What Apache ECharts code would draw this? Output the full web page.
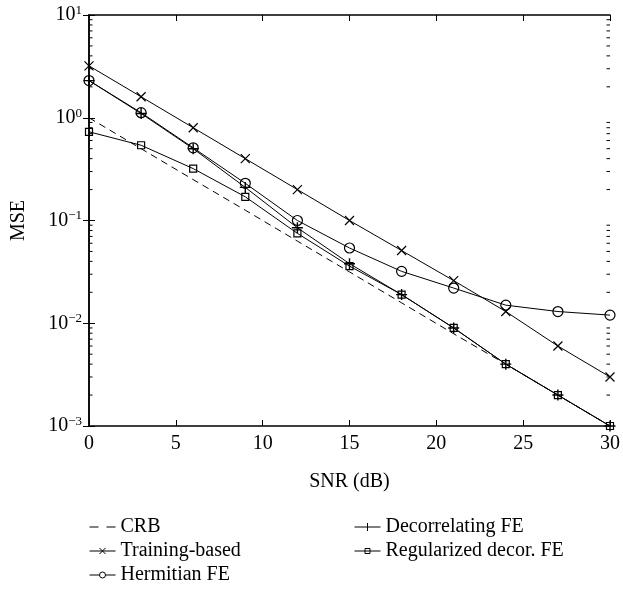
<!DOCTYPE html>
<html>
<head>
<meta charset="utf-8">
<script src="https://cdn.jsdelivr.net/npm/echarts@6/dist/echarts.min.js"></script>
<style>
html,body{margin:0;padding:0;background:#fff;}
#chart{width:623px;height:590px;}
</style>
</head>
<body>
<div id="chart"></div>
<script>
const snr = [0, 3, 6, 9, 12, 15, 18, 21, 24, 27, 30];
const crb = [1.0, 0.5, 0.25, 0.126, 0.063, 0.0316, 0.0158, 0.0079, 0.004, 0.002, 0.001];
const trainingBased = [3.2, 1.6, 0.8, 0.4, 0.2, 0.1, 0.051, 0.026, 0.013, 0.006, 0.003];
const hermitianFE = [2.3, 1.12, 0.51, 0.23, 0.1, 0.054, 0.032, 0.022, 0.015, 0.013, 0.012];
const decorrelatingFE = [2.3, 1.1, 0.5, 0.21, 0.085, 0.038, 0.019, 0.009, 0.004, 0.002, 0.001];
const regularizedFE = [0.73, 0.54, 0.32, 0.17, 0.075, 0.036, 0.019, 0.009, 0.004, 0.002, 0.001];
const yDecades = [0.001, 0.01, 0.1, 1, 10];
const seriesNames = ['CRB', 'Training-based', 'Hermitian FE', 'Decorrelating FE', 'Regularized decor. FE'];

const FONT = 'Liberation Serif';
const FS = 20;
const minorVals = [];
for (let d = 0; d < yDecades.length - 1; d++) {
  for (let m = 2; m <= 9; m++) minorVals.push([yDecades[d] * m]);
}
const pair = (ys) => snr.map((x, i) => [x, ys[i]]);
const CROSS = 'path://M0,0L10,10M10,0L0,10';
const PLUS = 'path://M5,0L5,10M0,5L10,5';

const legendIcons = {
  'CRB': 'path://M0,5.5L9,5.5L9,6.5L0,6.5ZM17,5.5L26,5.5L26,6.5L17,6.5Z',
  'Training-based': 'path://M0,6L26,6M10,3L16,9M16,3L10,9',
  'Hermitian FE': 'path://M0,6L10,6M16,6L26,6M16,6A3,3 0 1 1 10,6A3,3 0 1 1 16,6',
  'Decorrelating FE': 'path://M0,6L26,6M13,2L13,10',
  'Regularized decor. FE': 'path://M0,6L26,6M10.5,3.5L15.5,3.5L15.5,8.5L10.5,8.5Z'
};
const legendItem = (name) => ({
  name: name,
  icon: legendIcons[name],
  itemStyle: name === 'CRB'
    ? {color: '#000', borderWidth: 0}
    : {color: 'none', borderColor: '#000', borderWidth: 1}
});

const chart = echarts.init(document.getElementById('chart'));
const baseLine = {type: 'line', color: '#000', lineStyle: {color: '#000', width: 1}, animation: false,
  itemStyle: {color: '#fff', borderColor: '#000', borderWidth: 1}, showSymbol: true};
const tickStyle = {inside: true, length: 6, lineStyle: {color: '#000', width: 1}};
const axisLineStyle = {lineStyle: {color: '#000', width: 1.5}};

chart.setOption({
  backgroundColor: '#fff',
  animation: false,
  textStyle: {fontFamily: FONT, color: '#000'},
  grid: {left: 89, right: 11, top: 15, bottom: 164, containLabel: false},
  xAxis: [{
    type: 'value', min: 0, max: 30, interval: 5,
    name: 'SNR (dB)', nameLocation: 'middle', nameGap: 46,
    nameTextStyle: {fontFamily: FONT, fontSize: FS, color: '#000'},
    axisLine: axisLineStyle, axisTick: tickStyle,
    axisLabel: {fontFamily: FONT, fontSize: FS, color: '#000', margin: 8},
    splitLine: {show: false}
  }, {
    type: 'value', min: 0, max: 30, interval: 5, position: 'top',
    axisLine: axisLineStyle, axisTick: tickStyle,
    axisLabel: {show: false}, splitLine: {show: false}
  }],
  yAxis: [{
    type: 'log', logBase: 10, min: 0.001, max: 10,
    name: 'MSE', nameLocation: 'middle', nameGap: 60,
    nameTextStyle: {fontFamily: FONT, fontSize: FS, color: '#000'},
    axisLine: axisLineStyle, axisTick: tickStyle,
    axisLabel: {
      margin: 7,
      formatter: function (v) {
        const e = Math.round(Math.log10(v));
        return '{b|10}{s|' + String(e).replace('-', '\u2212') + '}';
      },
      rich: {
        b: {fontFamily: FONT, fontSize: FS, color: '#000'},
        s: {fontFamily: FONT, fontSize: 13, color: '#000', padding: [0, 0, 9, 0]}
      }
    },
    splitLine: {show: false}
  }, {
    type: 'log', logBase: 10, min: 0.001, max: 10, position: 'right',
    axisLine: axisLineStyle, axisTick: tickStyle,
    axisLabel: {show: false}, splitLine: {show: false}
  }],
  legend: [{
    data: [seriesNames[0], seriesNames[1], seriesNames[2]].map(legendItem),
    orient: 'vertical', left: 87, top: 517, itemGap: 4, itemWidth: 26, itemHeight: 12,
    padding: 0,
    textStyle: {fontFamily: FONT, fontSize: FS, color: '#000'}, selectedMode: false
  }, {
    data: [seriesNames[3], seriesNames[4]].map(legendItem),
    orient: 'vertical', left: 352, top: 517, itemGap: 4, itemWidth: 26, itemHeight: 12,
    padding: 0,
    textStyle: {fontFamily: FONT, fontSize: FS, color: '#000'}, selectedMode: false
  }],
  series: [
    Object.assign({}, baseLine, {name: seriesNames[0], data: pair(crb), symbol: 'none',
      lineStyle: {color: '#000', width: 1, type: [7, 5]}, z: 2}),
    Object.assign({}, baseLine, {name: seriesNames[1], data: pair(trainingBased), symbol: CROSS, symbolSize: 9,
      itemStyle: {color: 'rgba(0,0,0,0)', borderColor: '#000', borderWidth: 1.2}, z: 3}),
    Object.assign({}, baseLine, {name: seriesNames[2], data: pair(hermitianFE), symbol: 'circle', symbolSize: 10,
      itemStyle: {color: 'rgba(255,255,255,0)', borderColor: '#000', borderWidth: 1.2}, z: 3}),
    Object.assign({}, baseLine, {name: seriesNames[3], data: pair(decorrelatingFE), symbol: PLUS, symbolSize: 11,
      itemStyle: {color: 'rgba(0,0,0,0)', borderColor: '#000', borderWidth: 1.4}, z: 5}),
    Object.assign({}, baseLine, {name: seriesNames[4], data: pair(regularizedFE), symbol: 'rect', symbolSize: 7,
      itemStyle: {color: 'rgba(255,255,255,0)', borderColor: '#000', borderWidth: 1.2}, z: 4}),
    {
      type: 'custom', name: 'minorTicks', data: minorVals, silent: true, z: 10,
      xAxisIndex: 0, yAxisIndex: 0,
      renderItem: function (params, api) {
        const v = api.value(0);
        const pl = api.coord([0, v]);
        const pr = api.coord([30, v]);
        return {type: 'group', children: [
          {type: 'line', shape: {x1: pl[0], y1: pl[1], x2: pl[0] + 3.5, y2: pl[1]}, style: {stroke: '#000', lineWidth: 1}},
          {type: 'line', shape: {x1: pr[0], y1: pr[1], x2: pr[0] - 3.5, y2: pr[1]}, style: {stroke: '#000', lineWidth: 1}}
        ]};
      }
    }
  ]
});
</script>
</body>
</html>
